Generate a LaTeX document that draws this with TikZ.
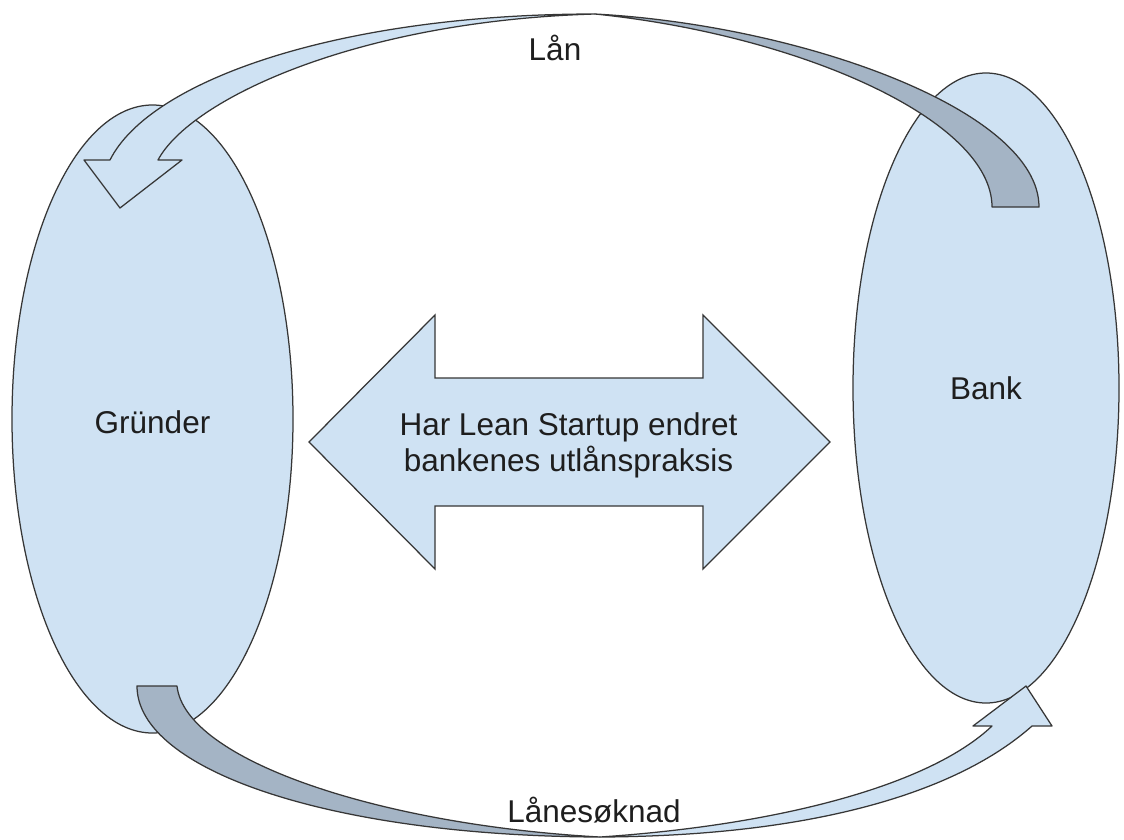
\documentclass[tikz,border=0pt]{standalone}
\usepackage{fontspec}
\setmainfont{Liberation Sans}
\usetikzlibrary{shapes.geometric}
\definecolor{fillblue}{HTML}{CFE2F3}
\definecolor{backblue}{HTML}{A4B4C5}
\definecolor{edgecol}{HTML}{363636}
\definecolor{ink}{HTML}{1E1E1E}
\tikzset{
  blob/.style={ellipse, draw=edgecol, fill=fillblue, line width=1.25pt, inner sep=0pt,
    font=\fontsize{31.5}{36}\selectfont, text=ink},
  frontpart/.style={draw=edgecol, fill=fillblue, line width=1.25pt, line join=round},
  backpart/.style={draw=edgecol, fill=backblue, line width=1.25pt, line join=round},
  bigarrow/.style={draw=edgecol, fill=fillblue, line width=1.25pt, line join=miter},
  lbl/.style={font=\fontsize{31.5}{36}\selectfont, text=ink, inner sep=0pt},
}
\begin{document}
\begin{tikzpicture}[x=1pt,y=-1pt]
\useasboundingbox (0,0) rectangle (1124,839);
\fill[white] (0,0) rectangle (1124,839);

% ellipses
\node[blob, minimum width=281pt, minimum height=628pt, text height=29pt] (grunder) at (152.5,419) {Gründer};
\node[blob, minimum width=266pt, minimum height=630pt] (bank) at (986,388) {Bank};

% top curved arrow (Lån): from bank to grunder
\coordinate (tm) at (595,14);
\draw[backpart] (992,207) -- (1039,207)
  .. controls (1039,110) and (800,25) .. (tm)
  .. controls (800,35) and (992,120) .. (992,207) -- cycle;
\draw[frontpart] (tm) .. controls (340,14) and (150,80) .. (110,160)
  -- (84,160) -- (120,208) -- (182,160) -- (158,160)
  .. controls (190,100) and (355,21) .. (tm) -- cycle;

% bottom curved arrow (Lånesøknad): from grunder to bank
\coordinate (bm) at (600,837);
\draw[backpart] (137,686) -- (177,686)
  .. controls (185,760) and (380,825) .. (bm)
  .. controls (330,836) and (137,770) .. (137,686) -- cycle;
\draw[frontpart] (bm) .. controls (820,836) and (960,790) .. (1032,726)
  -- (1052,726) -- (1026,686) -- (973,726) -- (992,726)
  .. controls (930,785) and (780,825) .. (bm) -- cycle;

% central double arrow
\draw[bigarrow] (309,442) -- (435,315) -- (435,378) -- (703,378) -- (703,315)
  -- (830,442) -- (703,569) -- (703,506) -- (435,506) -- (435,569) -- cycle;
\node[lbl, align=center] (question) at (568.5,445)
  {Har Lean Startup endret\\bankenes utlånspraksis};

% labels
\node[lbl, anchor=base] (lan) at (555,60) {Lån};
\node[lbl, anchor=base] (soknad) at (594,822) {Lånesøknad};
\end{tikzpicture}
\end{document}
